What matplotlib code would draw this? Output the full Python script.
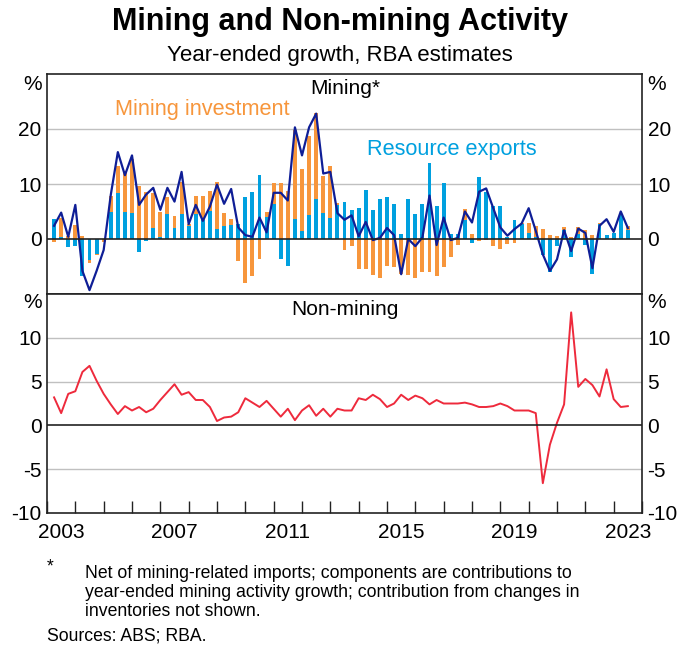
import numpy as np
import pandas as pd
import matplotlib
matplotlib.use("Agg")
import matplotlib.pyplot as plt
from matplotlib.ticker import FixedLocator, NullFormatter, FixedFormatter

plt.rcParams['font.family'] = ['Liberation Sans', 'DejaVu Sans']
plt.rcParams['axes.unicode_minus'] = False

# ---------------- data (quarterly, Mar-2003 .. Jun-2023) ----------------
quarters = pd.period_range('2003Q1', '2023Q2', freq='Q')

resource_exports = [3.6, 0.4, -1.4, -1.2, -6.8, -3.8, -2.8, 0.0, 4.9, 8.3,
                    4.9, 4.7, -2.4, -0.3, 2.0, 0.4, 4.5, 2.0, 4.5, 2.4,
                    4.6, 3.5, 5.1, 1.8, 2.3, 2.5, 2.7, 7.7, 8.6, 11.6,
                    4.0, 6.3, -3.7, -4.9, 3.7, 1.4, 4.3, 7.2, 4.8, 3.9,
                    6.2, 6.8, 5.2, 5.7, 8.9, 5.2, 7.3, 7.6, 6.3, 0.9,
                    7.3, 4.5, 6.3, 13.9, 6.0, 10.1, 1.0, 1.0, 3.4, -0.7,
                    11.2, 8.6, 6.0, 6.0, 0.3, 3.4, 2.7, 1.1, 0.3, -2.9,
                    -6.0, -1.3, 1.6, -3.3, 1.0, -1.0, -6.3, 2.8, 0.7, 1.1,
                    4.3, 1.7]

mining_investment = [-0.5, 3.5, 0.5, 2.5, 0.5, -0.5, -0.2, -0.5, 2.9, 4.9,
                     7.4, 9.8, 9.6, 8.5, 6.4, 4.5, 3.2, 2.1, 5.9, 0.3,
                     3.2, 4.3, 3.7, 8.6, 2.5, 1.1, -4.0, -8.0, -6.8, -3.6,
                     1.0, 3.8, 10.1, 8.8, 16.1, 11.3, 14.4, 15.7, 6.7, 9.4,
                     0.4, -2.0, -1.3, -5.4, -5.5, -6.6, -7.0, -4.9, -5.1, -6.3,
                     -6.6, -7.1, -6.0, -6.0, -6.8, -5.0, -3.3, -1.0, 2.1, 0.9,
                     -0.3, -0.2, -1.3, -1.8, -0.9, -0.7, 0.2, 1.8, 2.1, 1.9,
                     0.7, 0.5, 0.6, 0.4, 1.1, 1.6, 0.7, 0.1, 0.1, -0.2,
                     0.3, 0.6]

mining_activity = [2.4, 4.8, 0.4, 6.2, -5.8, -9.3, -5.8, -2.0, 8.0, 15.8,
                   11.6, 15.2, 6.2, 8.1, 9.3, 5.3, 9.3, 6.8, 12.2, 2.7,
                   6.2, 3.3, 5.9, 9.9, 6.4, 9.1, 2.1, 0.7, 0.4, 3.9,
                   1.2, 8.4, 8.4, 7.0, 20.3, 15.2, 20.3, 22.8, 11.9, 12.2,
                   4.7, 3.5, 4.3, 0.5, 3.1, -0.2, 0.2, 2.0, 0.7, -6.4,
                   0.0, -1.3, 0.3, 7.9, -1.1, 3.9, -0.2, 0.2, 5.0, 3.0,
                   8.6, 9.2, 5.6, 2.1, 0.6, 1.8, 2.8, 5.6, 1.5, -2.8,
                   -5.8, -3.7, 1.6, -2.2, 1.9, 1.1, -5.3, 2.4, 3.6, 1.3,
                   5.0, 2.0]

non_mining_activity = [3.2, 1.4, 3.6, 3.9, 6.1, 6.8, 5.1, 3.6, 2.4, 1.3,
                       2.2, 1.7, 2.1, 1.5, 1.9, 2.9, 3.8, 4.7, 3.5, 3.8,
                       2.9, 2.9, 2.1, 0.5, 0.9, 1.0, 1.5, 3.1, 2.6, 2.1,
                       2.8, 1.9, 1.0, 1.9, 0.6, 1.7, 2.3, 1.1, 1.9, 1.0,
                       1.9, 1.7, 1.7, 3.1, 2.9, 3.5, 3.0, 2.1, 2.5, 3.5,
                       2.9, 3.4, 3.1, 2.4, 2.9, 2.5, 2.5, 2.5, 2.6, 2.4,
                       2.1, 2.1, 2.2, 2.5, 2.2, 1.7, 1.7, 1.7, 1.4, -6.6,
                       -2.2, 0.3, 2.4, 12.9, 4.4, 5.3, 4.6, 3.3, 6.4, 3.0,
                       2.1, 2.2]

year_labels = ['2003', '2007', '2011', '2015', '2019', '2023']
top_yticks = [0, 10, 20]
bottom_yticks = [-10, -5, 0, 5, 10]

# ---------------- styling ----------------
ORANGE = '#F7963C'
BLUE = '#00A0DF'
NAVY = '#0F1E96'
RED = '#EE2A3C'
GRID = '#C0C0C0'

W, H = 680, 649
fig = plt.figure(figsize=(W / 100, H / 100), dpi=100)


def px(x, y):
    return x / W, 1 - y / H


left, right = 47, 642
top1, mid, bot2 = 74, 294, 513
ax1 = fig.add_axes([left / W, 1 - mid / H, (right - left) / W, (mid - top1) / H])
ax2 = fig.add_axes([left / W, 1 - bot2 / H, (right - left) / W, (bot2 - mid) / H], sharex=ax1)

x = quarters.year + quarters.quarter * 0.25
blue = np.array(resource_exports)
orange = np.array(mining_investment)
orange_bottom = np.where(orange * blue > 0, blue, 0.0)

bw = 0.14
ax1.bar(x, blue, width=bw, color=BLUE, zorder=3, linewidth=0)
ax1.bar(x, orange, width=bw, bottom=orange_bottom, color=ORANGE, zorder=3, linewidth=0)
ax1.plot(x, mining_activity, color=NAVY, lw=1.6, zorder=4)

ax2.plot(x, non_mining_activity, color=RED, lw=1.4, zorder=4)

ax1.set_ylim(-10, 30)
ax2.set_ylim(-10, 15)
ax1.set_xlim(2003, 2024)

for ax, grid_vals in ((ax1, [10, 20]), (ax2, [-5, 5, 10])):
    for g in grid_vals:
        ax.axhline(g, color=GRID, lw=1.0, zorder=1)
    ax.axhline(0, color='#222222', lw=1.2, zorder=5)
    for s in ax.spines.values():
        s.set_linewidth(1.2)
        s.set_color('#222222')

# y ticks (labels on both sides, no tick marks)
ax1.set_yticks(top_yticks)
ax2.set_yticks(bottom_yticks)
for ax in (ax1, ax2):
    ax.tick_params(axis='y', which='both', length=0, labelsize=15, pad=4,
                   left=True, right=True, labelleft=True, labelright=True)

# x ticks: year boundaries inward (bottom panel only); labels at mid-year
years = np.arange(2003, 2025)
ax2.xaxis.set_major_locator(FixedLocator(years))
ax2.xaxis.set_major_formatter(NullFormatter())
ax2.xaxis.set_minor_locator(FixedLocator([int(y) + 0.5 for y in year_labels]))
ax2.xaxis.set_minor_formatter(FixedFormatter(year_labels))
ax2.tick_params(axis='x', which='major', direction='in', length=9, width=1.0, color='#222222')
ax2.tick_params(axis='x', which='minor', length=0, labelsize=15, pad=7)
ax1.tick_params(axis='x', which='both', bottom=False, labelbottom=False)

# percent signs
for yy in (85, 303):
    fig.text(*px(33, yy), '%', ha='center', va='center', fontsize=15)
    fig.text(*px(657, yy), '%', ha='center', va='center', fontsize=15)

# titles
fig.text(*px(W / 2, 22), 'Mining and Non-mining Activity', ha='center', va='center',
         fontsize=22, fontweight='bold')
fig.text(*px(W / 2, 55), 'Year-ended growth, RBA estimates', ha='center', va='center',
         fontsize=16)

fig.text(*px(345, 89), 'Mining*', ha='center', va='center', fontsize=15)
fig.text(*px(345, 310), 'Non-mining', ha='center', va='center', fontsize=15)
fig.text(*px(115, 110), 'Mining investment', ha='left', va='center', fontsize=15.7, color=ORANGE)
fig.text(*px(367, 149), 'Resource exports', ha='left', va='center', fontsize=15.7, color=BLUE)

# footnotes
fig.text(*px(47, 567), '*', ha='left', va='center', fontsize=12.7)
notes = ['Net of mining-related imports; components are contributions to',
         'year-ended mining activity growth; contribution from changes in',
         'inventories not shown.']
for i, line in enumerate(notes):
    fig.text(*px(85, 573 + 19.5 * i), line, ha='left', va='center', fontsize=12.7)
fig.text(*px(47, 636), 'Sources: ABS; RBA.', ha='left', va='center', fontsize=12.7)

fig.savefig('out.png', dpi=100)
